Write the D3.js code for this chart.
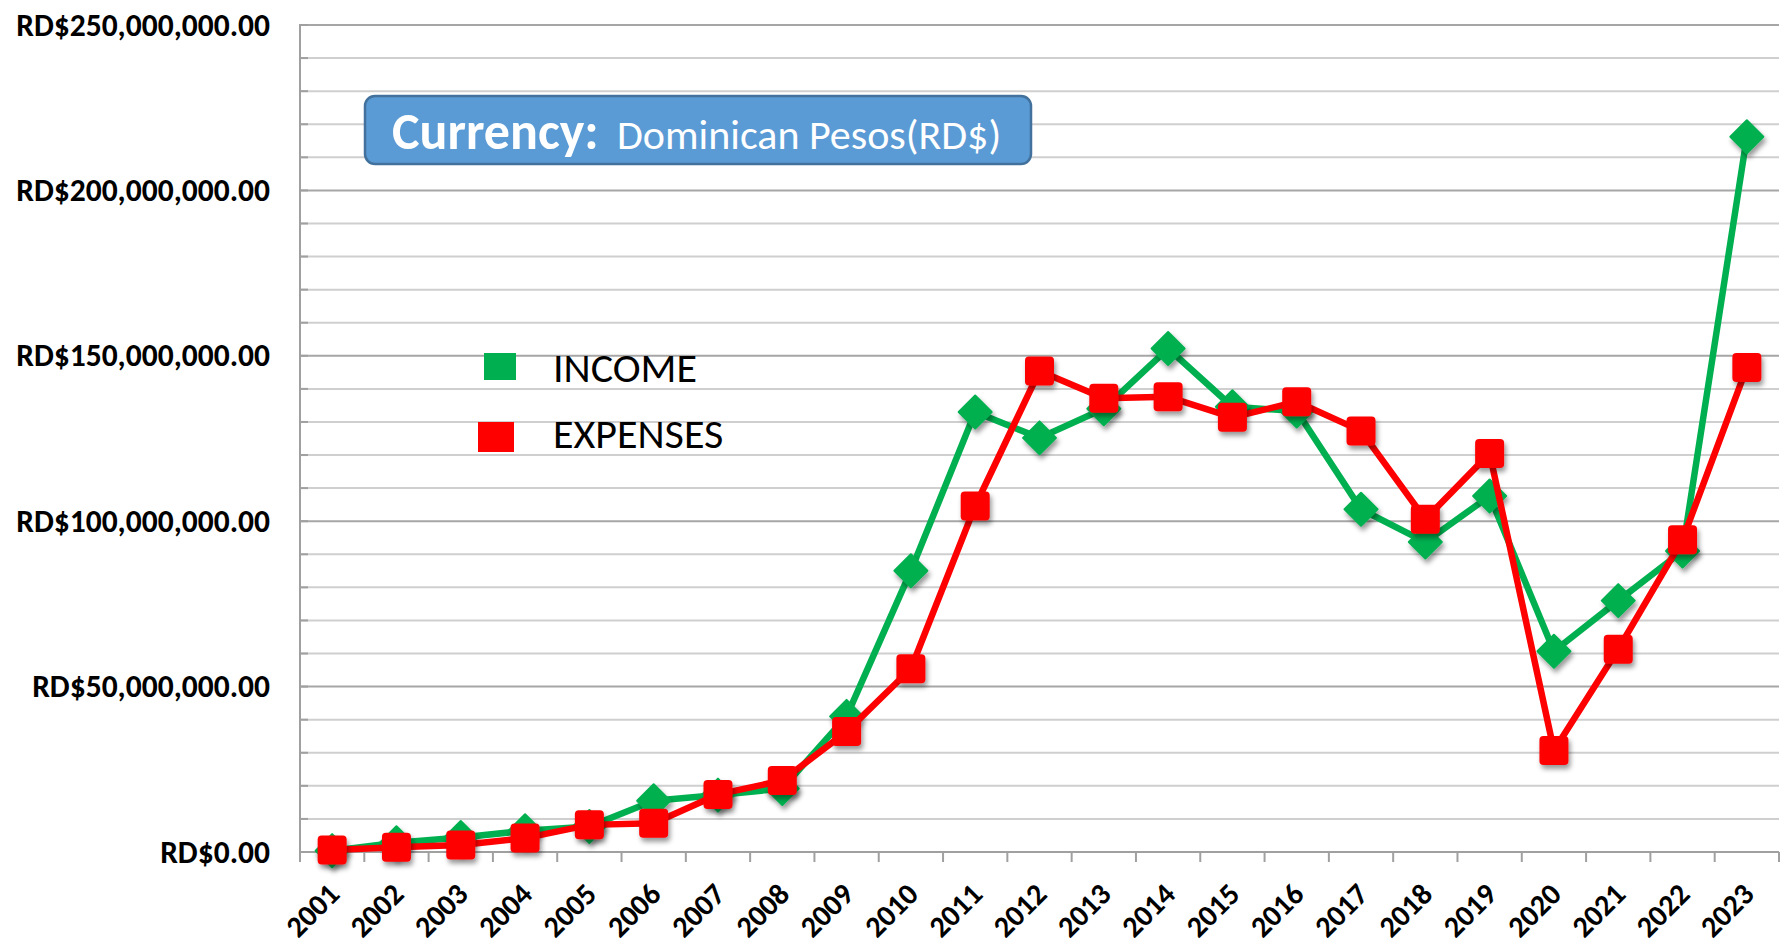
<!DOCTYPE html>
<html>
<head>
<meta charset="utf-8">
<script src="https://cdn.jsdelivr.net/npm/d3@7/dist/d3.min.js"></script>
<style>
  html, body { margin: 0; padding: 0; background: #fff; }
  svg { display: block; font-family: Calibri, Carlito, Lato, sans-serif; }
</style>
</head>
<body>
<div id="chart"></div>
<script>
// income / expenses per year, in RD$
const years = ['2001','2002','2003','2004','2005','2006','2007','2008','2009','2010','2011','2012',
               '2013','2014','2015','2016','2017','2018','2019','2020','2021','2022','2023'];
const income = [0.4, 2.8, 4.4, 6.4, 7.7, 15.5, 17.2, 19.2, 41.0, 85.0, 133.0, 125.2,
                134.0, 152.2, 134.6, 133.3, 103.6, 93.7, 107.6, 60.7, 76.0, 91.0, 216.2].map(v => v * 1e6);
const expenses = [0.6, 1.4, 2.1, 4.2, 8.2, 8.7, 17.4, 21.6, 36.4, 55.4, 104.6, 145.4,
                  137.2, 137.6, 131.4, 136.1, 127.3, 100.6, 120.5, 30.7, 61.3, 94.4, 146.5].map(v => v * 1e6);
const yLabelTicks = [0, 50e6, 100e6, 150e6, 200e6, 250e6];
const legendItems = ['INCOME', 'EXPENSES'];

const width = 1787, height = 945;
const plotLeft = 300, plotRight = 1779, plotTop = 25, plotBottom = 852;
const GREEN = '#00b050', RED = '#ff0000';

const svg = d3.select('#chart').append('svg')
    .attr('width', width)
    .attr('height', height);

svg.append('rect').attr('width', width).attr('height', height).attr('fill', '#fff');

// shadow under markers
const defs = svg.append('defs');
const f = defs.append('filter').attr('id', 'shadow')
    .attr('x', '-50%').attr('y', '-50%').attr('width', '200%').attr('height', '200%');
f.append('feDropShadow').attr('dx', 2).attr('dy', 4).attr('stdDeviation', 2.5)
    .attr('flood-color', '#000').attr('flood-opacity', 0.4);

const x = d3.scaleBand().domain(years).range([plotLeft, plotRight]);
const y = d3.scaleLinear().domain([0, 250e6]).range([plotBottom, plotTop]);
const cx = d => x(d) + x.bandwidth() / 2;

// gridlines, every 10M; the 50M ones a bit darker
const grid = d3.range(10e6, 250e6 + 1, 10e6);
svg.append('g').selectAll('line')
    .data(grid)
    .join('line')
    .attr('x1', plotLeft).attr('x2', plotRight)
    .attr('y1', d => y(d)).attr('y2', d => y(d))
    .attr('stroke', d => d % 50e6 === 0 ? '#a6a6a6' : '#cfcfcf')
    .attr('stroke-width', 2);

// small inside ticks on the y axis
svg.append('g').selectAll('line')
    .data(grid)
    .join('line')
    .attr('x1', plotLeft).attr('x2', plotLeft + 8)
    .attr('y1', d => y(d)).attr('y2', d => y(d))
    .attr('stroke', '#a0a0a0')
    .attr('stroke-width', 2);

// axis lines
svg.append('line').attr('x1', plotLeft).attr('x2', plotLeft).attr('y1', plotTop - 1).attr('y2', plotBottom)
    .attr('stroke', '#a0a0a0').attr('stroke-width', 2);
svg.append('line').attr('x1', plotLeft).attr('x2', plotRight).attr('y1', plotBottom).attr('y2', plotBottom)
    .attr('stroke', '#a0a0a0').attr('stroke-width', 2);

// category boundary ticks below the x axis
svg.append('g').selectAll('line')
    .data(years.map(d => x(d)).concat([plotRight]))
    .join('line')
    .attr('x1', d => d).attr('x2', d => d)
    .attr('y1', plotBottom).attr('y2', plotBottom + 10)
    .attr('stroke', '#a0a0a0')
    .attr('stroke-width', 2);

// y labels
const yAxis = svg.append('g')
    .attr('transform', `translate(${plotLeft},0)`)
    .call(d3.axisLeft(y)
        .tickValues(yLabelTicks)
        .tickSize(0)
        .tickPadding(30)
        .tickFormat(d => 'RD$' + d3.format(',.2f')(d)));
yAxis.select('.domain').remove();
yAxis.selectAll('text')
    .attr('font-family', 'Calibri, Carlito, Lato, sans-serif')
    .attr('font-size', 31.5)
    .attr('font-weight', 'bold')
    .attr('fill', '#000');

// x labels, rotated
svg.append('g').selectAll('text')
    .data(years)
    .join('text')
    .attr('transform', d => `translate(${cx(d) + 9},${plotBottom + 44}) rotate(-45)`)
    .attr('text-anchor', 'end')
    .attr('font-size', 30)
    .attr('font-weight', 'bold')
    .attr('fill', '#000')
    .text(d => d);

// series
const line = d3.line().x((d, i) => cx(years[i])).y(d => y(d));

function drawSeries(values, color, shape) {
    const g = svg.append('g');
    g.append('path')
        .datum(values)
        .attr('d', line)
        .attr('fill', 'none')
        .attr('stroke', color)
        .attr('stroke-width', 6.5)
        .attr('stroke-linejoin', 'round');
    const m = g.append('g').attr('filter', 'url(#shadow)');
    if (shape === 'diamond') {
        m.selectAll('path')
            .data(values)
            .join('path')
            .attr('d', (d, i) => {
                const px = cx(years[i]), py = y(d), r = 16.5;
                return `M${px},${py - r}L${px + r},${py}L${px},${py + r}L${px - r},${py}Z`;
            })
            .attr('fill', color)
            .attr('stroke', color)
            .attr('stroke-width', 2)
            .attr('stroke-linejoin', 'round');
    } else {
        const s = 29;
        m.selectAll('rect')
            .data(values)
            .join('rect')
            .attr('x', (d, i) => cx(years[i]) - s / 2)
            .attr('y', d => y(d) - s / 2)
            .attr('width', s).attr('height', s)
            .attr('rx', 4)
            .attr('fill', color);
    }
}
drawSeries(income, GREEN, 'diamond');
drawSeries(expenses, RED, 'square');

// currency box
const box = svg.append('g');
box.append('rect')
    .attr('x', 365).attr('y', 96)
    .attr('width', 666).attr('height', 68)
    .attr('rx', 10)
    .attr('fill', '#5b9bd5')
    .attr('stroke', '#41719c')
    .attr('stroke-width', 2.5);
box.append('text')
    .attr('x', 392).attr('y', 149)
    .attr('font-size', 52).attr('font-weight', 'bold').attr('fill', '#fff')
    .text('Currency:');
box.append('text')
    .attr('x', 617).attr('y', 149)
    .attr('font-size', 42).attr('fill', '#fff')
    .text('Dominican Pesos(RD$)');

// legend
const legend = svg.append('g');
legend.append('rect').attr('x', 484).attr('y', 353).attr('width', 32).attr('height', 27).attr('fill', GREEN);
legend.append('rect').attr('x', 478).attr('y', 422).attr('width', 36).attr('height', 30).attr('fill', RED);
legend.selectAll('text')
    .data(legendItems)
    .join('text')
    .attr('x', 553)
    .attr('y', (d, i) => i === 0 ? 382 : 448)
    .attr('font-size', 42)
    .attr('fill', '#000')
    .text(d => d);
</script>
</body>
</html>
